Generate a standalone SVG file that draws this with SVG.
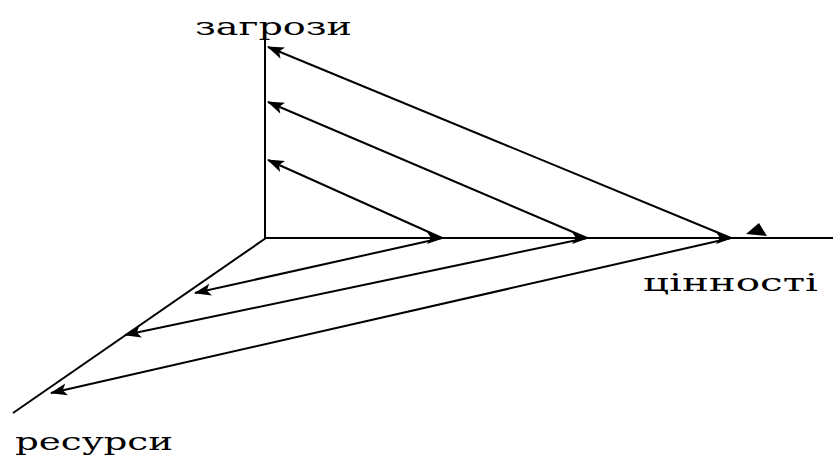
<svg xmlns="http://www.w3.org/2000/svg" width="833" height="456" viewBox="0 0 833 456">
<style>
.ax{stroke:#000;stroke-width:2;fill:none}
.ar{stroke:#000;stroke-width:2;fill:none;marker-end:url(#ah)}
.lb{font-family:"DejaVu Serif","Liberation Serif",serif;font-size:25px;fill:#000}
</style>
<defs>
<marker id="ah" markerUnits="userSpaceOnUse" markerWidth="20" markerHeight="14" refX="16" refY="7" orient="auto">
<path d="M0,1 L17,7 L0,13 L4,7 Z" fill="#000"/>
</marker>
</defs>
<rect width="833" height="456" fill="#fff"/>
<g id="axes">
<line class="ax" x1="265" y1="40" x2="265" y2="239"/>
<line class="ax" x1="265" y1="238" x2="833" y2="238"/>
<line class="ax" x1="266" y1="238" x2="13" y2="413"/>
<polygon points="746,234 759,223 767,236" fill="#000"/>
</g>
<g id="connectors">
<line class="ar" x1="442" y1="238" x2="268" y2="160"/>
<line class="ar" x1="587" y1="238" x2="268" y2="102"/>
<line class="ar" x1="731" y1="238" x2="268" y2="47"/>
<line class="ar" x1="442" y1="238" x2="195" y2="293"/>
<line class="ar" x1="587" y1="238" x2="125" y2="335"/>
<line class="ar" x1="731" y1="238" x2="51" y2="393"/>
<path class="ar" d="M420,238 L443,238"/>
<path class="ar" d="M565,238 L588,238"/>
<path class="ar" d="M709,238 L732,238"/>
</g>
<g id="label-zagrozy"><text class="lb" x="195" y="35" textLength="157" lengthAdjust="spacingAndGlyphs">загрози</text></g>
<g id="label-tsinnosti"><text class="lb" x="643" y="291" textLength="175" lengthAdjust="spacingAndGlyphs">цінності</text></g>
<g id="label-resursy"><text class="lb" x="15" y="450" textLength="158" lengthAdjust="spacingAndGlyphs">ресурси</text></g>
</svg>
